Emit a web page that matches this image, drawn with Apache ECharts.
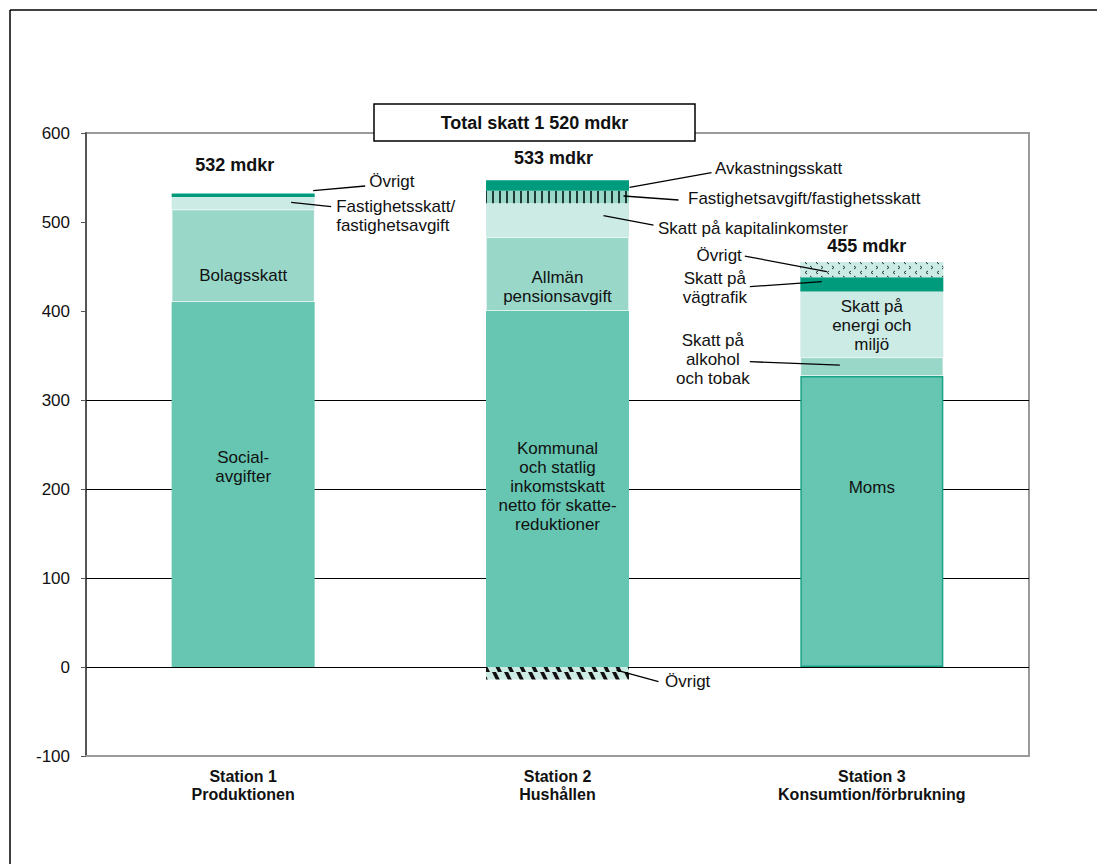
<!DOCTYPE html>
<html>
<head>
<meta charset="utf-8">
<script src="https://cdn.jsdelivr.net/npm/echarts@6/dist/echarts.min.js"></script>
<style>
html,body{margin:0;padding:0;background:#fff;}
#chart{width:1097px;height:864px;}
</style>
</head>
<body>
<div id="chart"></div>
<script>
// ---- data ----
const categories = ['Station 1\nProduktionen', 'Station 2\nHushållen', 'Station 3\nKonsumtion/förbrukning'];
const baseValues     = [410, 400, 327];   // Socialavgifter / Kommunal och statlig inkomstskatt / Moms
const midValues      = [104, 83, 21];     // Bolagsskatt / Allmän pensionsavgift / Skatt på alkohol och tobak
const lightValues    = [14, 38, 74];      // Fastighetsskatt / Skatt på kapitalinkomster / Skatt på energi och miljö
const stripedValues  = ['-', 14, '-'];    // Fastighetsavgift/fastighetsskatt
const darkValues     = [4, 12, 16];       // Övrigt / Avkastningsskatt / Skatt på vägtrafik
const dottedValues   = ['-', '-', 17];    // Övrigt (station 3)
const negativeValues = ['-', -14, '-'];   // Övrigt (station 2)
const totalLabels = ['532 mdkr', '533 mdkr', '455 mdkr'];
const titleText = 'Total skatt 1 520 mdkr';
const yMin = -100, yMax = 600, yInterval = 100;
const gridLineValues = [0, 100, 200, 300];

// ---- styles ----
const FONT = '"Liberation Sans", Arial, Helvetica, sans-serif';
const C_BASE = '#66C6B2', C_MID = '#99D8C9', C_LIGHT = '#CCEBE4', C_DARK = '#009B7D';

function makePattern(w, h, bg, draw) {
  const c = document.createElement('canvas');
  c.width = w; c.height = h;
  const g = c.getContext('2d');
  g.fillStyle = bg; g.fillRect(0, 0, w, h);
  draw(g);
  return { image: c.toDataURL(), repeat: 'repeat' };
}
const stripePattern = makePattern(7, 4, C_MID, g => { g.fillStyle = '#1f3b35'; g.fillRect(2, 0, 2, 4); });
const diagPattern = makePattern(12, 12, C_LIGHT, g => {
  g.fillStyle = '#111';
  for (let x0 = -12; x0 <= 12; x0 += 12) {
    g.beginPath(); g.moveTo(x0, 0); g.lineTo(x0 + 4, 0); g.lineTo(x0 + 10, 12); g.lineTo(x0 + 6, 12); g.closePath(); g.fill();
  }
});
const dotPattern = makePattern(11, 10, C_LIGHT, g => {
  g.strokeStyle = '#1e3a34'; g.lineWidth = 1;
  g.beginPath(); g.moveTo(4, 1); g.lineTo(2, 2.5); g.lineTo(4, 4); g.stroke();
  g.beginPath(); g.moveTo(7, 6); g.lineTo(9, 7.5); g.lineTo(7, 9); g.stroke();
});

const chart = echarts.init(document.getElementById('chart'), null, { renderer: 'svg' });

const seriesDefs = [
  { name: 'base', data: baseValues, color: C_BASE },
  { name: 'mid', data: midValues, color: C_MID, borderColor: 'rgba(255,255,255,0.35)' },
  { name: 'light', data: lightValues, color: C_LIGHT },
  { name: 'striped', data: stripedValues, color: stripePattern },
  { name: 'dark', data: darkValues, color: C_DARK },
  { name: 'dotted', data: dottedValues, color: dotPattern },
  { name: 'negative', data: negativeValues, color: diagPattern }
];

const series = seriesDefs.map((d, i) => {
  const s = {
    type: 'bar', name: d.name, stack: 'total', barWidth: 143,
    data: d.data.map((v, ci) => {
      if (d.name === 'base' && ci === 2) {
        return { value: v, itemStyle: { borderColor: '#18a386', borderWidth: 1.5 } };
      }
      return v;
    }),
    itemStyle: { color: d.color, borderColor: d.borderColor || 'transparent', borderWidth: d.borderColor ? 1 : 0 },
    emphasis: { disabled: true },
    silent: true
  };
  if (i === 0) {
    s.markLine = {
      z: 1, silent: true, symbol: ['none', 'none'], animation: false,
      label: { show: false },
      lineStyle: { color: '#000', width: 1, type: 'solid' },
      data: gridLineValues.map(v => ({ yAxis: v }))
    };
  }
  return s;
});

chart.setOption({
  animation: false,
  grid: { left: 86, right: 68, top: 133, bottom: 108, show: true, borderColor: '#9a9a9a', borderWidth: 2, backgroundColor: 'transparent' },
  xAxis: {
    type: 'category', data: categories,
    axisLine: { onZero: false, lineStyle: { color: '#9a9a9a', width: 2 } },
    axisTick: { show: false },
    axisLabel: { fontFamily: FONT, fontWeight: 'bold', fontSize: 16, lineHeight: 18, color: '#111', margin: 11 }
  },
  yAxis: {
    type: 'value', min: yMin, max: yMax, interval: yInterval,
    axisLine: { show: true, lineStyle: { color: '#555', width: 2 } },
    axisTick: { show: true, length: 5, lineStyle: { color: '#555' } },
    splitLine: { show: false },
    axisLabel: { fontFamily: FONT, fontSize: 17, color: '#111', margin: 16 }
  },
  series: series
});

// ---- annotations positioned from data through the chart's scales ----
function stackRange(si, ci) {
  const v = Number(seriesDefs[si].data[ci]);
  let lo = 0;
  for (let k = 0; k < si; k++) {
    const w = Number(seriesDefs[k].data[ci]);
    if (!isNaN(w) && Math.sign(w) === Math.sign(v)) lo += w;
  }
  return [lo, lo + v];
}
function segMid(si, ci) {
  const r = stackRange(si, ci);
  return chart.convertToPixel({ gridIndex: 0 }, [ci, (r[0] + r[1]) / 2]);
}
function stackTop(ci) {
  let t = 0;
  seriesDefs.forEach(d => { const w = Number(d.data[ci]); if (!isNaN(w) && w > 0) t += w; });
  return chart.convertToPixel({ gridIndex: 0 }, [ci, t]);
}

const insideLabels = [
  { ci: 0, si: 0, text: 'Social-\navgifter', dy: -18 },
  { ci: 0, si: 1, text: 'Bolagsskatt', dy: 20 },
  { ci: 1, si: 0, text: 'Kommunal\noch statlig\ninkomstskatt\nnetto för skatte-\nreduktioner', dy: -3 },
  { ci: 1, si: 1, text: 'Allmän\npensionsavgift', dy: 13 },
  { ci: 2, si: 2, text: 'Skatt på\nenergi och\nmiljö', dy: 1 },
  { ci: 2, si: 0, text: 'Moms', dy: -34 }
];
// line: [startDx, startDy, endDx, endDy] relative to bar centre / segment middle; t: text offset
const calloutLabels = [
  { ci: 0, si: 4, text: 'Övrigt', line: [70, -4.6, 122, -9.3], t: [126, -14.3], align: 'left' },
  { ci: 0, si: 2, text: 'Fastighetsskatt/\nfastighetsavgift', line: [48, -1, 88, 3.4], t: [93, 12.6], align: 'left' },
  { ci: 1, si: 4, text: 'Avkastningsskatt', line: [72, 1.8, 154, -12.8], t: [157.5, -17.5], align: 'left' },
  { ci: 1, si: 3, text: 'Fastighetsavgift/fastighetsskatt', line: [66, -1.1, 121, 2.9], t: [130.5, 1.9], align: 'left' },
  { ci: 1, si: 2, text: 'Skatt på kapitalinkomster', line: [46, -4.5, 96, 4.8], t: [100.5, 7.8], align: 'left' },
  { ci: 1, si: 6, text: 'Övrigt', line: [59, -3.2, 101, 8.5], t: [107.5, 8.5], align: 'left' },
  { ci: 2, si: 5, text: 'Övrigt', line: [-45, 2.1, -127, -13.6], t: [-130, -14.6], align: 'right' },
  { ci: 2, si: 4, text: 'Skatt på\nvägtrafik', line: [-50, -2.6, -122, 2.4], t: [-157, 3.7], align: 'center' },
  { ci: 2, si: 1, text: 'Skatt på\nalkohol\noch tobak', line: [-32, -1.6, -122, -4.9], t: [-159, -7.6], align: 'center' }
];
const totalOffsets = [[-8.5, -28.5], [-4, -22], [-5, -16]];

function textEl(x, y, text, align, weight, size) {
  return {
    type: 'text', x: x, y: y, z: 100, silent: true,
    style: {
      text: text, fill: '#111', fontFamily: FONT, fontSize: size || 17, fontWeight: weight || 'normal',
      lineHeight: 19, align: align, textAlign: align, verticalAlign: 'middle', textVerticalAlign: 'middle'
    }
  };
}

const graphics = [];
insideLabels.forEach(l => {
  const p = segMid(l.si, l.ci);
  graphics.push(textEl(p[0], p[1] + l.dy, l.text, 'center'));
});
calloutLabels.forEach(l => {
  const p = segMid(l.si, l.ci);
  graphics.push({
    type: 'line', z: 100, silent: true,
    shape: { x1: p[0] + l.line[0], y1: p[1] + l.line[1], x2: p[0] + l.line[2], y2: p[1] + l.line[3] },
    style: { stroke: '#000', lineWidth: 1.3 }
  });
  graphics.push(textEl(p[0] + l.t[0], p[1] + l.t[1], l.text, l.align));
});
totalLabels.forEach((t, ci) => {
  const p = stackTop(ci);
  graphics.push(textEl(p[0] + totalOffsets[ci][0], p[1] + totalOffsets[ci][1], t, 'center', 'bold', 18));
});
// title box
graphics.push({ type: 'rect', z: 100, silent: true, shape: { x: 374, y: 104, width: 321, height: 37 }, style: { fill: '#fff', stroke: '#000', lineWidth: 1.5 } });
graphics.push(textEl(534.5, 123, titleText, 'center', 'bold', 18));
// outer frame (left and top visible)
graphics.push({ type: 'line', z: 100, silent: true, shape: { x1: 10, y1: 10, x2: 10, y2: 864 }, style: { stroke: '#000', lineWidth: 1.5 } });
graphics.push({ type: 'line', z: 100, silent: true, shape: { x1: 10, y1: 10, x2: 1097, y2: 10 }, style: { stroke: '#000', lineWidth: 1.5 } });

chart.setOption({ graphic: graphics });
</script>
</body>
</html>
